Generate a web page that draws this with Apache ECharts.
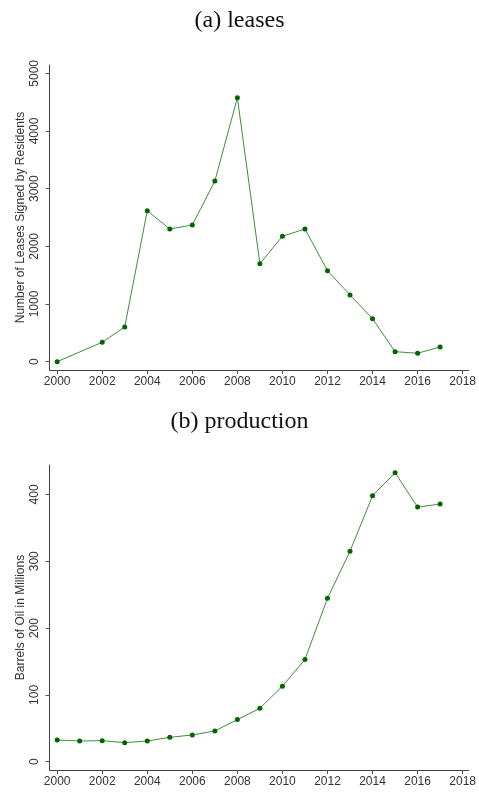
<!DOCTYPE html>
<html>
<head>
<meta charset="utf-8">
<script src="https://cdn.jsdelivr.net/npm/echarts@6/dist/echarts.min.js"></script>
<style>
  html, body { margin: 0; padding: 0; background: #fff; }
  #main { width: 479px; height: 794px; }
</style>
</head>
<body>
<div id="main"></div>
<script>
// leases signed by residents (no 2001 point)
const leaseYears = [2000, 2002, 2003, 2004, 2005, 2006, 2007, 2008, 2009, 2010, 2011, 2012, 2013, 2014, 2015, 2016, 2017];
const leaseValues = [0, 336, 602, 2618, 2300, 2370, 3133, 4577, 1699, 2174, 2300, 1578, 1156, 746, 173, 145, 255];

// oil production, millions of barrels
const prodYears = [2000, 2001, 2002, 2003, 2004, 2005, 2006, 2007, 2008, 2009, 2010, 2011, 2012, 2013, 2014, 2015, 2016, 2017];
const prodValues = [32.5, 31, 31.5, 28.5, 31, 36.5, 40, 46, 63, 80, 113, 153, 244.5, 315, 398, 432.5, 381, 385.5];

const xTicks = [2000, 2002, 2004, 2006, 2008, 2010, 2012, 2014, 2016, 2018];
const leaseTicks = [0, 1000, 2000, 3000, 4000, 5000];
const prodTicks = [0, 100, 200, 300, 400];

const titles = ['(a) leases', '(b) production'];
const yNames = ['Number of Leases Signed by Residents', 'Barrels of Oil in Millions'];

const chart = echarts.init(document.getElementById('main'));

const sansFont = '"Liberation Sans", Arial, sans-serif';
const serifFont = '"Liberation Serif", "DejaVu Serif", serif';
const lineColor = '#3d8f3d';
const markColor = '#006400';
const plain = v => String(v);

function xAxisFor(i) {
  return {
    type: 'value',
    gridIndex: i,
    min: 1999.66,
    max: 2018.27,
    axisLine: { show: true, onZero: false, lineStyle: { color: '#444', width: 1 } },
    axisTick: { show: true, customValues: xTicks, length: 4, lineStyle: { color: '#555' } },
    axisLabel: { customValues: xTicks, formatter: plain, color: '#333', fontSize: 12, fontFamily: sansFont, margin: 6 },
    splitLine: { show: false }
  };
}

function yAxisFor(i, min, max, ticks) {
  return {
    type: 'value',
    gridIndex: i,
    min: min,
    max: max,
    name: yNames[i],
    nameLocation: 'middle',
    nameGap: 23,
    nameMoveOverlap: false,
    nameTextStyle: { color: '#333', fontSize: 12, fontFamily: sansFont },
    axisLine: { show: true, onZero: false, lineStyle: { color: '#444', width: 1 } },
    axisTick: { show: true, customValues: ticks, length: 4, lineStyle: { color: '#555' } },
    axisLabel: { customValues: ticks, formatter: plain, rotate: 90, color: '#333', fontSize: 12, fontFamily: sansFont, margin: 9 },
    splitLine: { show: false }
  };
}

function seriesFor(i, xs, ys) {
  return {
    type: 'line',
    xAxisIndex: i,
    yAxisIndex: i,
    data: xs.map((x, k) => [x, ys[k]]),
    symbol: 'circle',
    symbolSize: 5,
    showSymbol: true,
    lineStyle: { color: lineColor, width: 1 },
    itemStyle: { color: markColor },
    emphasis: { disabled: true }
  };
}

const option = {
  animation: false,
  backgroundColor: '#fff',
  title: [
    { text: titles[0], left: 'center', top: 4,
      textStyle: { fontFamily: serifFont, fontWeight: 'normal', fontSize: 24, color: '#111' } },
    { text: titles[1], left: 'center', top: 405,
      textStyle: { fontFamily: serifFont, fontWeight: 'normal', fontSize: 24, color: '#111' } }
  ],
  grid: [
    { left: 49.5, right: 6, top: 65, height: 305 },
    { left: 49.5, right: 6, top: 465, height: 305 }
  ],
  xAxis: [xAxisFor(0), xAxisFor(1)],
  yAxis: [yAxisFor(0, -145, 5145, leaseTicks), yAxisFor(1, -12.4, 444, prodTicks)],
  series: [seriesFor(0, leaseYears, leaseValues), seriesFor(1, prodYears, prodValues)]
};

chart.setOption(option);
</script>
</body>
</html>
